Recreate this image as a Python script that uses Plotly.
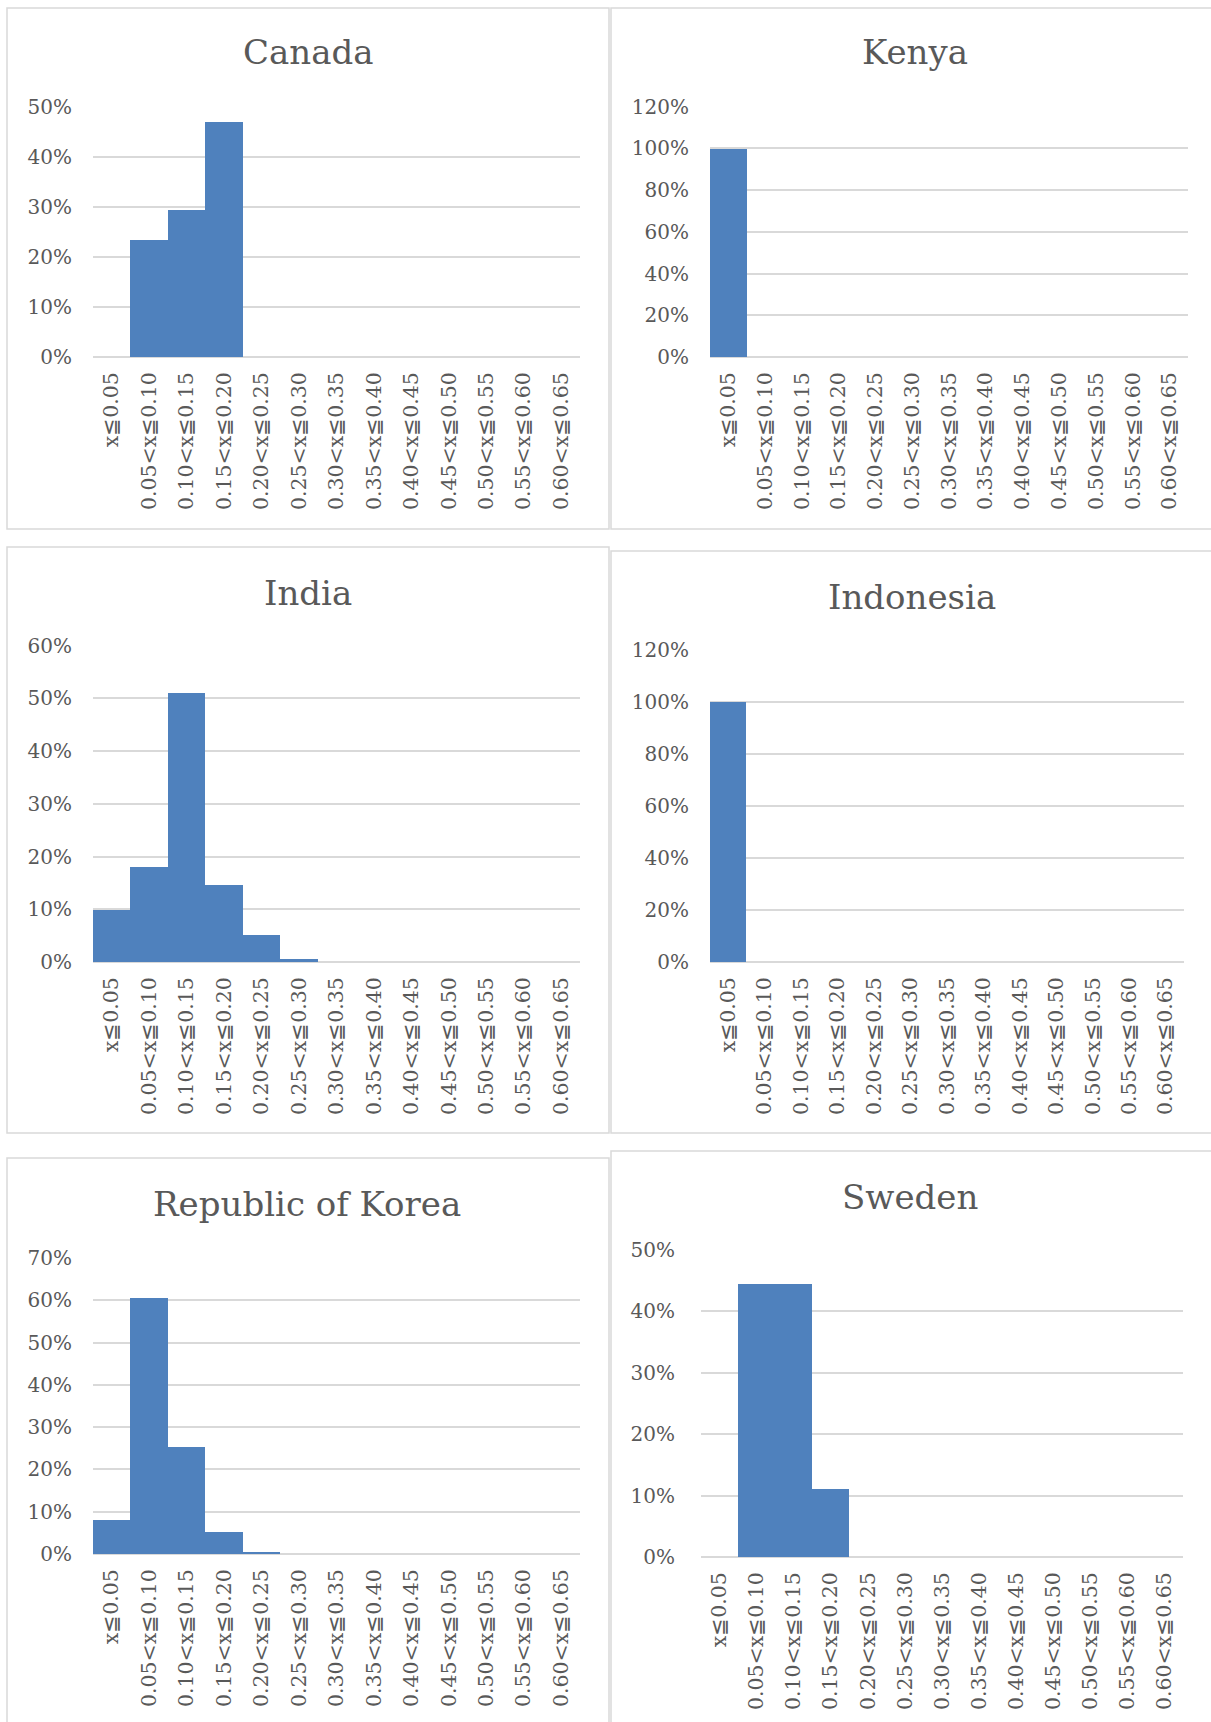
import plotly.graph_objects as go

W, H = 1211, 1722

categories = ["x≦0.05", "0.05<x≦0.10", "0.10<x≦0.15", "0.15<x≦0.20",
              "0.20<x≦0.25", "0.25<x≦0.30", "0.30<x≦0.35", "0.35<x≦0.40",
              "0.40<x≦0.45", "0.45<x≦0.50", "0.50<x≦0.55", "0.55<x≦0.60",
              "0.60<x≦0.65"]

canada = [0, 23.5, 29.4, 47.1, 0, 0, 0, 0, 0, 0, 0, 0, 0]
kenya = [100, 0, 0, 0, 0, 0, 0, 0, 0, 0, 0, 0, 0]
india = [10.0, 18.1, 51.0, 14.6, 5.2, 0.6, 0, 0, 0, 0, 0, 0, 0]
indonesia = [100, 0, 0, 0, 0, 0, 0, 0, 0, 0, 0, 0, 0]
korea = [8.0, 60.6, 25.2, 5.1, 0.4, 0, 0, 0, 0, 0, 0, 0, 0]
sweden = [0, 44.4, 44.4, 11.1, 0, 0, 0, 0, 0, 0, 0, 0, 0]

titles = ["Canada", "Kenya", "India", "Indonesia", "Republic of Korea", "Sweden"]
series = [canada, kenya, india, indonesia, korea, sweden]
y_max = [50, 120, 60, 120, 70, 50]
y_step = [10, 20, 10, 20, 10, 10]

# layout geometry (pixels): plot area left, right, top, bottom; title centre; frame box; label standoff
panels = [
    dict(plot=(93, 580, 106.5, 357), title=(308, 52), frame=(7, 609, 8, 529), so=20),
    dict(plot=(710, 1188, 106.5, 357), title=(915, 52), frame=(611, 1215, 8, 529), so=20),
    dict(plot=(93, 580, 645.6, 962), title=(308, 593), frame=(7, 609, 547, 1133), so=20),
    dict(plot=(710, 1184, 650, 962), title=(912, 597), frame=(611, 1215, 551, 1133), so=20),
    dict(plot=(93, 580, 1258, 1554), title=(307, 1204), frame=(7, 609, 1158, 1730), so=20),
    dict(plot=(701, 1183, 1249.5, 1557), title=(910, 1197), frame=(611, 1215, 1151, 1730), so=25),
]

BAR = "#4F81BD"
TXT = "#595959"
GRID = "#D9D9D9"
FONT = "DejaVu Serif, Liberation Serif, serif"

fig = go.Figure()
layout = dict(width=W, height=H, margin=dict(l=0, r=0, t=0, b=0, autoexpand=False),
              paper_bgcolor="white", plot_bgcolor="white", showlegend=False,
              bargap=0, font=dict(family=FONT, color=TXT, size=20))
shapes = []
annotations = []

for i, (vals, title, p) in enumerate(zip(series, titles, panels), start=1):
    xa = "x" if i == 1 else f"x{i}"
    ya = "y" if i == 1 else f"y{i}"
    fig.add_trace(go.Bar(x=categories, y=vals, xaxis=xa, yaxis=ya,
                         marker=dict(color=BAR, line=dict(width=0)),
                         width=1.0))
    l, r, t, b = p["plot"]
    layout["xaxis" if i == 1 else f"xaxis{i}"] = dict(
        domain=[l / W, r / W], anchor=ya, type="category",
        range=[-0.5, len(categories) - 0.5], tickangle=-90,
        showgrid=False, zeroline=False, showline=False, ticks="",
        ticklabelstandoff=10, automargin=False,
        tickfont=dict(family=FONT, size=20.5, color=TXT), fixedrange=True)
    layout["yaxis" if i == 1 else f"yaxis{i}"] = dict(
        domain=[1 - b / H, 1 - t / H], anchor=xa,
        range=[0, y_max[i - 1]], dtick=y_step[i - 1], tick0=0,
        ticksuffix="%", showgrid=True, gridcolor=GRID, gridwidth=1.5,
        zeroline=True, zerolinecolor=GRID, zerolinewidth=1.5,
        showline=False, ticks="", ticklabelstandoff=p["so"], automargin=False,
        tickfont=dict(family=FONT, size=20, color=TXT), fixedrange=True)
    fx0, fx1, fy0, fy1 = p["frame"]
    shapes.append(dict(type="rect", xref="paper", yref="paper",
                       x0=fx0 / W, x1=fx1 / W, y0=1 - fy1 / H, y1=1 - fy0 / H,
                       line=dict(color=GRID, width=1.5), fillcolor="rgba(0,0,0,0)",
                       layer="below"))
    tx, ty = p["title"]
    annotations.append(dict(text=title, xref="paper", yref="paper",
                            x=tx / W, y=1 - ty / H, xanchor="center", yanchor="middle",
                            showarrow=False,
                            font=dict(family=FONT, size=34, color=TXT)))

layout["shapes"] = shapes
layout["annotations"] = annotations
fig.update_layout(**layout)
fig.write_html("out.html")
